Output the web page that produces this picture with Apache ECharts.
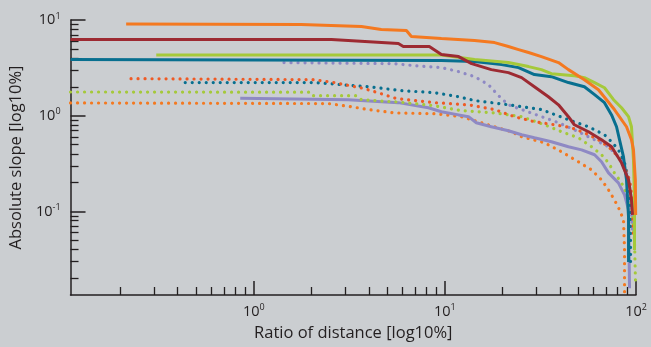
<!DOCTYPE html>
<html>
<head>
<meta charset="utf-8">
<script src="https://cdn.jsdelivr.net/npm/echarts@6/dist/echarts.min.js"></script>
<style>
html,body{margin:0;padding:0;background:#cbced1;}
#c{width:651px;height:347px;}
</style>
</head>
<body>
<div id="c"></div>
<script>
// ---- data (x = ratio of distance, y = absolute slope) ----
var orangeSolid = [[0.215,9.08],[1.77,8.97],[3.66,8.55],[4.65,7.95],[6.29,7.76],[6.68,6.72],[9.59,6.40],[14.3,6.10],[18.2,5.81],[21.5,5.28],[24.3,4.91],[27.4,4.57],[32.0,4.15],[39.3,3.59],[44.3,3.03],[53.7,2.38],[63.6,1.87],[77.1,1.16],[89.2,0.767],[94.7,0.561],[97.0,0.44],[99.2,0.214],[99.6,0.092]];
var redSolid = [[0.11,6.25],[2.55,6.25],[5.71,5.67],[6.06,5.28],[8.29,5.28],[9.59,4.35],[11.8,4.15],[13.8,3.5],[17.5,3.03],[21.5,2.82],[25.2,2.5],[29.4,2.01],[34.8,1.58],[39.3,1.30],[44.3,0.977],[47.6,0.805],[56.4,0.68],[66.0,0.561],[74.5,0.474],[84.0,0.322],[91.4,0.214],[94.7,0.132],[95.9,0.092]];
var greenSolid = [[0.309,4.30],[9.59,4.30],[14.3,3.86],[21.5,3.59],[27.4,3.26],[32.0,3.03],[36.1,2.75],[47.6,2.62],[53.7,2.5],[60.7,2.22],[68.4,1.96],[76.3,1.47],[84.0,1.21],[91.4,0.977],[94.7,0.767],[97.0,0.346],[98.2,0.132],[98.2,0.0395]];
var tealSolid = [[0.11,3.86],[9.59,3.77],[14.3,3.68],[19.8,3.42],[24.3,3.18],[29.4,2.69],[36.1,2.56],[44.3,2.22],[53.7,2.01],[60.7,1.66],[68.4,1.37],[74.5,1.02],[79.1,0.767],[82.0,0.561],[86.0,0.372],[89.2,0.214],[91.4,0.0875],[91.4,0.0296]];
var redDotted = [[0.228,2.44],[2.07,2.38],[2.64,2.22],[3.79,1.92],[4.82,1.66],[5.57,1.51],[8.81,1.37],[13.3,1.30],[18.2,1.16],[23.1,0.977],[29.4,0.865],[37.4,0.805],[45.9,0.749],[53.7,0.664],[63.6,0.561],[71.8,0.474],[80.9,0.372],[87.1,0.292],[92.5,0.214],[95.9,0.132],[97.0,0.0503]];
var tealDotted = [[0.438,2.22],[2.07,2.22],[2.87,2.11],[3.97,2.01],[5.92,1.83],[8.81,1.74],[11.8,1.58],[14.3,1.44],[21.5,1.30],[32.0,1.16],[44.3,0.908],[56.4,0.767],[68.4,0.633],[74.5,0.535],[80.9,0.44],[87.1,0.322],[91.4,0.214],[93.6,0.104],[93.6,0.0275]];
var lavenderDotted = [[1.44,3.59],[5.44,3.50],[7.26,3.30],[9.59,3.18],[11.8,2.89],[14.3,2.56],[16.9,2.11],[19.1,1.62],[21.5,1.30],[25.2,1.16],[33.2,0.953],[39.3,0.845],[47.6,0.713],[60.7,0.561],[71.8,0.474],[84.0,0.346],[89.2,0.253],[92.5,0.181],[95.9,0.064]];
var greenDotted = [[0.11,1.77],[2.0,1.76],[2.05,1.62],[3.48,1.62],[3.66,1.47],[5.92,1.38],[8.81,1.27],[12.2,1.13],[18.2,1.07],[25.2,0.977],[33.2,0.805],[40.8,0.68],[50.0,0.588],[58.5,0.474],[66.0,0.391],[71.8,0.322],[77.1,0.253],[84.0,0.199],[89.2,0.156],[94.7,0.117],[98.2,0.0503],[99.4,0.0183]];
var orangeDotted = [[0.11,1.36],[2.45,1.34],[3.24,1.24],[3.97,1.16],[5.44,1.07],[8.81,1.05],[12.2,0.977],[14.3,0.887],[18.2,0.767],[22.3,0.68],[25.2,0.603],[33.2,0.522],[40.8,0.42],[50.0,0.33],[58.5,0.272],[66.0,0.214],[71.8,0.168],[77.1,0.132],[82.0,0.104],[86.0,0.0815],[87.1,0.0395],[87.1,0.0134]];
var lavenderSolid = [[0.85,1.52],[3.12,1.47],[5.71,1.37],[8.2,1.21],[9.59,1.10],[11.8,1.02],[13.3,0.977],[14.6,0.845],[17.5,0.767],[21.5,0.697],[25.2,0.633],[29.4,0.588],[36.1,0.535],[44.3,0.474],[51.9,0.44],[60.7,0.391],[66.0,0.33],[71.8,0.253],[80.9,0.199],[87.1,0.149],[91.4,0.104],[92.5,0.0158]];

// ---- ticks ----
var xMajorTicks = [1, 10, 100];
var xMinorTicks = [0.2,0.3,0.4,0.5,0.6,0.7,0.8,0.9,2,3,4,5,6,7,8,9,20,30,40,50,60,70,80,90];
var yMajorTicks = [0.1, 1, 10];
var yMinorTicks = [0.02,0.03,0.04,0.05,0.06,0.07,0.08,0.09,0.2,0.3,0.4,0.5,0.6,0.7,0.8,0.9,2,3,4,5,6,7,8,9];
var xRange = [0.11, 100];
var yRange = [0.0134, 10];

var FONT = 'Open Sans';
var INK = '#231f20';
var C = {orange:'#f47920', red:'#9d2a32', green:'#a5c93a', teal:'#086f8f', redOrange:'#ef5a24', lavender:'#8e89c4'};

function supFmt(v){
  var e = Math.round(Math.log10(v));
  return '{b|10}{s|' + e + '}';
}
var rich = {
  b:{fontSize:14.5, fontFamily:FONT, color:INK},
  s:{fontSize:9, fontFamily:FONT, color:INK, padding:[0,0,8,0]}
};

function solid(name, data, color){
  return {name:name, type:'line', data:data, showSymbol:false, symbol:'none', animation:false,
    lineStyle:{color:color, width:3, type:'solid'}, xAxisIndex:0, yAxisIndex:0};
}
function dotted(name, data, color){
  return {name:name, type:'line', data:data, showSymbol:false, symbol:'none', animation:false,
    lineStyle:{color:color, width:3.2, type:[0.05,6.95], cap:'round'}, xAxisIndex:0, yAxisIndex:0};
}

var chart = echarts.init(document.getElementById('c'), null, {renderer:'canvas'});
chart.setOption({
  backgroundColor:'#cbced1',
  animation:false,
  grid:{left:69, right:15, top:20, bottom:52, containLabel:false},
  xAxis:[
    {type:'log', logBase:10, min:xRange[0], max:xRange[1],
     axisLine:{show:true, lineStyle:{color:INK, width:1.5}},
     axisTick:{show:true, inside:true, length:14, lineStyle:{color:INK, width:1.5}, customValues:xMajorTicks},
     axisLabel:{show:true, customValues:xMajorTicks, formatter:supFmt, rich:rich, margin:8},
     splitLine:{show:false},
     name:'Ratio of distance [log10%]', nameLocation:'middle', nameGap:30,
     nameTextStyle:{fontSize:16.5, fontFamily:FONT, color:INK}},
    {type:'log', logBase:10, min:xRange[0], max:xRange[1], position:'bottom',
     axisLine:{show:false},
     axisTick:{show:true, inside:true, length:8, lineStyle:{color:INK, width:1.3}, customValues:xMinorTicks},
     axisLabel:{show:false}, splitLine:{show:false}}
  ],
  yAxis:[
    {type:'log', logBase:10, min:yRange[0], max:yRange[1],
     axisLine:{show:true, lineStyle:{color:INK, width:1.5}},
     axisTick:{show:true, inside:true, length:15, lineStyle:{color:INK, width:1.5}, customValues:yMajorTicks},
     axisLabel:{show:true, customValues:yMajorTicks, formatter:supFmt, rich:rich, margin:10},
     splitLine:{show:false},
     name:'Absolute slope [log10%]', nameLocation:'middle', nameGap:41,
     nameTextStyle:{fontSize:16.5, fontFamily:FONT, color:INK}},
    {type:'log', logBase:10, min:yRange[0], max:yRange[1], position:'left',
     axisLine:{show:false},
     axisTick:{show:true, inside:true, length:8, lineStyle:{color:INK, width:1.3}, customValues:yMinorTicks},
     axisLabel:{show:false}, splitLine:{show:false}}
  ],
  series:[
    dotted('orange dotted', orangeDotted, C.orange),
    solid('lavender', lavenderSolid, C.lavender),
    dotted('green dotted', greenDotted, C.green),
    dotted('lavender dotted', lavenderDotted, C.lavender),
    dotted('teal dotted', tealDotted, C.teal),
    dotted('red dotted', redDotted, C.redOrange),
    solid('teal', tealSolid, C.teal),
    solid('green', greenSolid, C.green),
    solid('red', redSolid, C.red),
    solid('orange', orangeSolid, C.orange)
  ]
});
</script>
</body>
</html>
